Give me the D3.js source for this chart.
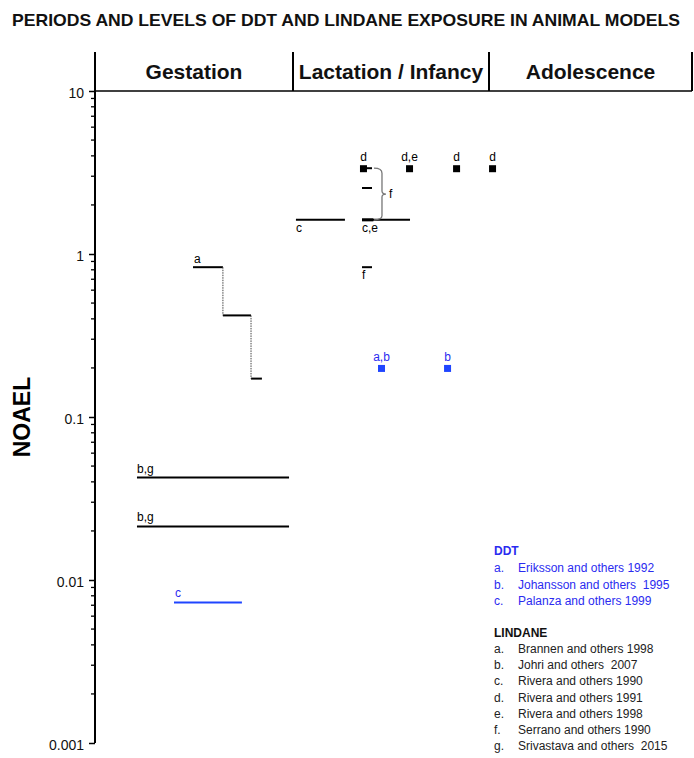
<!DOCTYPE html>
<html><head><meta charset="utf-8">
<script src="https://cdn.jsdelivr.net/npm/d3@7"></script>
<style>body{margin:0;background:#fff;} svg{display:block;font-family:"Liberation Sans",Arial,sans-serif;} text{white-space:pre;}</style>
</head><body><div id="chart"></div>
<script>
const periods = ["Gestation", "Lactation / Infancy", "Adolescence"];
const yTicks = [0.001, 0.01, 0.1, 1, 10];
// x positions are in "period units": 0-1 gestation, 1-2 lactation, 2-3 adolescence
const lindaneSteps = [ // Brannen step series (a)
  {x0: 0.495, x1: 0.646, v: 0.83},
  {x0: 0.646, x1: 0.788, v: 0.42},
  {x0: 0.788, x1: 0.843, v: 0.172}
];
const lindaneLines = [
  {x0: 0.212, x1: 0.98, v: 0.0425, label: "b,g", pos: "above"},
  {x0: 0.212, x1: 0.98, v: 0.0213, label: "b,g", pos: "above"},
  {x0: 1.015, x1: 1.265, v: 1.62, label: "c", pos: "below"},
  {x0: 1.352, x1: 1.597, v: 1.62, label: "c,e", pos: "below"},
  {x0: 1.352, x1: 1.403, v: 2.54, label: "", pos: "none"},
  {x0: 1.352, x1: 1.403, v: 0.83, label: "f", pos: "below"},
  {x0: 1.352, x1: 1.403, v: 3.36, label: "", pos: "none"}
];
const ddtLines = [
  {x0: 0.399, x1: 0.742, v: 0.00728, label: "c"}
];
const lindanePoints = [
  {x: 1.357, v: 3.36, label: "d"},
  {x: 1.592, v: 3.36, label: "d,e"},
  {x: 1.832, v: 3.36, label: "d"},
  {x: 2.015, v: 3.36, label: "d"}
];
const ddtPoints = [
  {x: 1.449, v: 0.2, label: "a,b"},
  {x: 1.786, v: 0.2, label: "b"}
];
const bracketF = {x: 1.454, v0: 3.36, v1: 1.62, label: "f"};
const ddtRefs = [["a.", "Eriksson and others 1992"], ["b.", "Johansson and others  1995"], ["c.", "Palanza and others 1999"]];
const lindaneRefs = [["a.", "Brannen and others 1998"], ["b.", "Johri and others  2007"], ["c.", "Rivera and others 1990"], ["d.", "Rivera and others 1991"], ["e.", "Rivera and others 1998"], ["f.", "Serrano and others 1990"], ["g.", "Srivastava and others  2015"]];

const W = 694, H = 758;
const BLUE = "#1f45ff", BLUE_T = "#2b2bf0";
const svg = d3.select("#chart").append("svg").attr("width", W).attr("height", H);
const x = d3.scaleLinear().domain([0, 1, 2, 3]).range([95, 293, 489, 692]);
const y = d3.scaleLog().domain([0.001, 10]).range([743, 91]);

// title
svg.append("text").attr("x", 346).attr("y", 26).attr("text-anchor", "middle")
  .attr("font-family", "'Liberation Sans Narrow','Liberation Sans',Arial")
  .attr("font-size", 17).attr("font-weight", "bold").attr("textLength", 668).attr("lengthAdjust", "spacingAndGlyphs")
  .attr("fill", "#111")
  .text("PERIODS AND LEVELS OF DDT AND LINDANE EXPOSURE IN ANIMAL MODELS");

// header
const hdr = svg.append("g");
[0, 1, 2, 3].forEach(d => hdr.append("line").attr("x1", x(d)).attr("x2", x(d)).attr("y1", 52).attr("y2", y(10))
  .attr("stroke", "#000").attr("stroke-width", 2));
hdr.append("line").attr("x1", x(0)).attr("x2", x(3)).attr("y1", y(10)).attr("y2", y(10)).attr("stroke", "#000").attr("stroke-width", 1.5);
periods.forEach((p, i) => hdr.append("text").attr("x", (x(i) + x(i + 1)) / 2).attr("y", 79)
  .attr("text-anchor", "middle").attr("font-weight", "bold").attr("font-size", 21).attr("fill", "#111").text(p));

// y axis
const ax = svg.append("g").attr("transform", `translate(${x(0)},0)`)
  .call(d3.axisLeft(y).tickValues(yTicks).tickFormat(d => d >= 1 ? d3.format("d")(d) : String(d)).tickSize(6).tickPadding(5));
ax.select(".domain").attr("stroke-width", 2).attr("d", `M0,${y(10)}V${y(0.001)}`);
ax.selectAll(".tick line").attr("stroke-width", 1.5);
ax.selectAll(".tick text").attr("font-size", 14).attr("fill", "#111").attr("dy", "0.45em");
const minor = [];
for (let e = -3; e < 1; e++) for (let k = 2; k <= 9; k++) minor.push(k * Math.pow(10, e));
svg.append("g").selectAll("line").data(minor).join("line")
  .attr("x1", x(0) - 4).attr("x2", x(0)).attr("y1", d => y(d)).attr("y2", d => y(d))
  .attr("stroke", "#000").attr("stroke-width", 1.3);
svg.append("text").attr("transform", `translate(30,${y(0.1)}) rotate(-90)`).attr("text-anchor", "middle")
  .attr("font-weight", "bold").attr("font-size", 23).text("NOAEL");

const lbl = (g, xx, yy, t, color, anchor) => g.append("text").attr("x", xx).attr("y", yy)
  .attr("font-size", 12).attr("fill", color).attr("text-anchor", anchor || "start").text(t);

const plot = svg.append("g");
// step series
lindaneSteps.forEach((s, i) => {
  plot.append("line").attr("x1", x(s.x0)).attr("x2", x(s.x1)).attr("y1", y(s.v)).attr("y2", y(s.v))
    .attr("stroke", "#000").attr("stroke-width", 2);
  if (i > 0) plot.append("line").attr("x1", x(s.x0)).attr("x2", x(s.x0))
    .attr("y1", y(lindaneSteps[i - 1].v)).attr("y2", y(s.v))
    .attr("stroke", "#444").attr("stroke-width", 1).attr("stroke-dasharray", "1.5,1");
});
lbl(plot, x(lindaneSteps[0].x0) + 1, y(lindaneSteps[0].v) - 4, "a", "#000");

lindaneLines.forEach(l => {
  plot.append("line").attr("x1", x(l.x0)).attr("x2", x(l.x1)).attr("y1", y(l.v)).attr("y2", y(l.v))
    .attr("stroke", "#000").attr("stroke-width", 2);
  if (l.pos === "above") lbl(plot, x(l.x0), y(l.v) - 5, l.label, "#000");
  if (l.pos === "below") lbl(plot, x(l.x0), y(l.v) + 12, l.label, "#000");
});
// thicker start of c,e line
plot.append("line").attr("x1", x(1.352)).attr("x2", x(1.41)).attr("y1", y(1.62)).attr("y2", y(1.62))
  .attr("stroke", "#000").attr("stroke-width", 3);

ddtLines.forEach(l => {
  plot.append("line").attr("x1", x(l.x0)).attr("x2", x(l.x1)).attr("y1", y(l.v)).attr("y2", y(l.v))
    .attr("stroke", BLUE).attr("stroke-width", 2);
  lbl(plot, x(l.x0) + 1, y(l.v) - 5, l.label, BLUE_T);
});

lindanePoints.forEach(p => {
  plot.append("rect").attr("x", x(p.x) - 3).attr("y", y(p.v) - 3).attr("width", 7).attr("height", 7).attr("fill", "#000");
  lbl(plot, x(p.x) + 0.5, y(p.v) - 7, p.label, "#000", "middle");
});
ddtPoints.forEach(p => {
  plot.append("rect").attr("x", x(p.x) - 3).attr("y", y(p.v) - 3).attr("width", 7).attr("height", 7).attr("fill", BLUE);
  lbl(plot, x(p.x) + 0.5, y(p.v) - 7, p.label, BLUE_T, "middle");
});

// bracket for f
const bx = x(bracketF.x), by0 = y(bracketF.v0), by1 = y(bracketF.v1), bm = (by0 + by1) / 2;
const bp = d3.path();
bp.moveTo(bx - 8, by0); bp.quadraticCurveTo(bx, by0, bx, by0 + 5);
bp.lineTo(bx, bm - 3); bp.quadraticCurveTo(bx, bm, bx + 4, bm);
bp.quadraticCurveTo(bx, bm, bx, bm + 3);
bp.lineTo(bx, by1 - 4); bp.quadraticCurveTo(bx, by1, bx - 8, by1);
plot.append("path").attr("d", bp.toString()).attr("fill", "none").attr("stroke", "#777").attr("stroke-width", 1.3);
lbl(plot, bx + 7, bm + 4, bracketF.label, "#000");

// legend
const leg = svg.append("g").attr("font-size", 12);
leg.append("text").attr("x", 494).attr("y", 555).attr("font-weight", "bold").attr("fill", BLUE_T).text("DDT");
ddtRefs.forEach((r, i) => {
  leg.append("text").attr("x", 494).attr("y", 572 + i * 16.5).attr("fill", BLUE_T).text(r[0]);
  leg.append("text").attr("x", 518).attr("y", 572 + i * 16.5).attr("fill", BLUE_T).text(r[1]);
});
leg.append("text").attr("x", 494).attr("y", 637).attr("font-weight", "bold").attr("fill", "#111").text("LINDANE");
lindaneRefs.forEach((r, i) => {
  leg.append("text").attr("x", 494).attr("y", 653 + i * 16.2).attr("fill", "#222").text(r[0]);
  leg.append("text").attr("x", 518).attr("y", 653 + i * 16.2).attr("fill", "#222").text(r[1]);
});
</script></body></html>
